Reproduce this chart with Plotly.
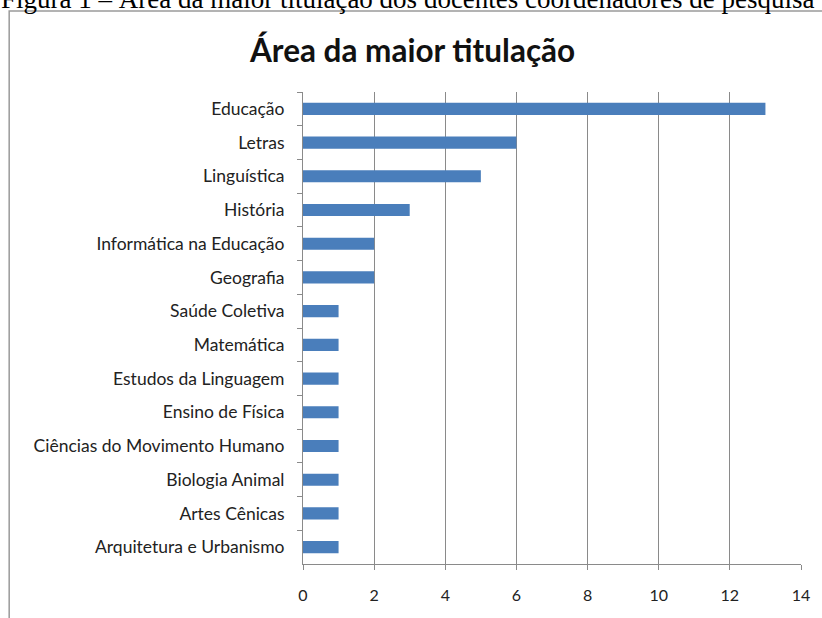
import plotly.graph_objects as go

categories = [
    "Educação", "Letras", "Linguística", "História", "Informática na Educação",
    "Geografia", "Saúde Coletiva", "Matemática", "Estudos da Linguagem",
    "Ensino de Física", "Ciências do Movimento Humano", "Biologia Animal",
    "Artes Cênicas", "Arquitetura e Urbanismo",
]
values = [13, 6, 5, 3, 2, 2, 1, 1, 1, 1, 1, 1, 1, 1]
x_ticks = [0, 2, 4, 6, 8, 10, 12, 14]

title_text = "Área da maior titulação"
caption_text = "Figura 1 – Área da maior titulação dos docentes coordenadores de pesquisa"

W, H = 822, 618
L, R, T, B = 303, 19, 92, 54
pw, ph = W - L - R, H - T - B


def px_x(p):
    return (p - L) / pw


def px_y(p):
    return (H - B - p) / ph


fig = go.Figure(go.Bar(
    x=values, y=categories, orientation="h",
    marker=dict(color="#4a7ebb", line=dict(width=0)),
    width=0.36,
))

fig.update_layout(
    width=W, height=H,
    margin=dict(l=L, r=R, t=T, b=B),
    paper_bgcolor="white", plot_bgcolor="white",
    font=dict(family="Lato, Open Sans, sans-serif", size=15, color="#222"),
    showlegend=False,
    xaxis=dict(
        range=[0, 14], tickvals=x_ticks, showgrid=True, gridcolor="#8a8a8a",
        gridwidth=1, zeroline=False, showline=True, linecolor="#8a8a8a",
        linewidth=1, ticks="outside", ticklen=5, tickcolor="#8a8a8a",
        ticklabelstandoff=12, fixedrange=True,
        tickfont=dict(size=16),
    ),
    yaxis=dict(
        autorange="reversed", showline=True, linecolor="#8a8a8a", linewidth=1,
        ticks="outside", ticklen=5, tickcolor="#8a8a8a", tickson="boundaries",
        showgrid=False, ticklabelstandoff=14,
        tickfont=dict(size=17.5),
    ),
    shapes=[dict(
        type="rect", xref="paper", yref="paper",
        x0=px_x(8), x1=px_x(840), y0=px_y(640), y1=px_y(11),
        line=dict(color="#9a9a9a", width=1.5), fillcolor="rgba(0,0,0,0)",
        layer="below",
    )],
    annotations=[
        dict(text="<b>" + title_text + "</b>", xref="paper", yref="paper",
             x=px_x(412), y=px_y(50), xanchor="center", yanchor="middle",
             showarrow=False, font=dict(family="Lato, sans-serif", size=31.5, color="#111")),
        dict(text=caption_text, xref="paper", yref="paper",
             x=px_x(0), y=px_y(16), xanchor="left", yanchor="bottom",
             showarrow=False, xshift=-2,
             font=dict(family="Liberation Serif, serif", size=27, color="#000")),
    ],
)

fig.write_html("out.html")
